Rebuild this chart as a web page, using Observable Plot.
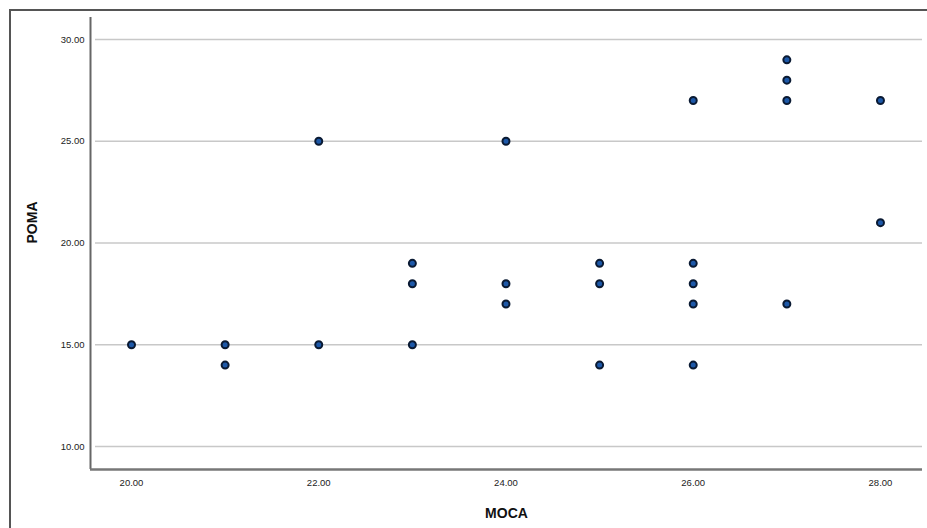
<!DOCTYPE html>
<html><head><meta charset="utf-8">
<script src="https://cdn.jsdelivr.net/npm/d3@7"></script>
<script src="https://cdn.jsdelivr.net/npm/@observablehq/plot@0.6"></script>
<style>
html,body{margin:0;padding:0;background:#fff;}
#wrap{position:relative;width:927px;height:528px;overflow:hidden;}
#frame{position:absolute;left:9px;top:9px;width:940px;height:540px;border-left:2px solid #555;border-top:2px solid #555;box-sizing:border-box;}
#chart{position:absolute;left:0;top:0;}
</style>
</head><body>
<div id="wrap"><div id="frame"></div><div id="chart"></div></div>
<script>
const moca = [20,21,21,22,22,23,23,23,24,24,24,25,25,25,26,26,26,26,26,27,27,27,27,28,28];
const poma = [15,15,14,25,15,19,18,15,25,18,17,19,18,14,27,19,18,17,14,29,28,27,17,27,21];
const xTicks = [20,22,24,26,28];
const yTicks = [10,15,20,25,30];
const xDomain = [19.562, 28.449];
const yDomain = [8.87, 31.08];

const data = moca.map((m,i)=>({MOCA:m, POMA:poma[i]}));

const chart = Plot.plot({
  width: 927, height: 528,
  marginLeft: 90, marginRight: 5, marginTop: 17, marginBottom: 59,
  style: {fontFamily: "Liberation Sans, Arial, sans-serif", background: "transparent"},
  x: {domain: xDomain, ticks: xTicks, tickFormat: d => d.toFixed(2), label: null},
  y: {domain: yDomain, ticks: yTicks, tickFormat: d => d.toFixed(2), label: null},
  marks: [
    Plot.ruleY(yTicks, {stroke: "#c8c8c8", strokeWidth: 1.5, insetLeft: 5}),
    Plot.ruleX([xDomain[0]], {stroke: "#666", strokeWidth: 2}),
    Plot.ruleY([yDomain[0]], {stroke: "#777", strokeWidth: 2.5}),
    Plot.axisX(xTicks, {tickSize: 0, tickPadding: 10, fontSize: 9.5, fill: "#222", tickFormat: d => d.toFixed(2), label: null}),
    Plot.axisY(yTicks, {tickSize: 0, tickPadding: 6, fontSize: 9.5, fill: "#222", tickFormat: d => d.toFixed(2), label: null}),
    Plot.dot(data, {x: "MOCA", y: "POMA", r: 3.5, fill: "#1d58a8", stroke: "#0a1a33", strokeWidth: 2}),
    Plot.text(["POMA"], {frameAnchor: "left", dx: -58, rotate: -90, fontSize: 14, fontWeight: "bold", fill: "#111", text: d => d}),
    Plot.text(["MOCA"], {frameAnchor: "bottom", dy: 48, fontSize: 14, fontWeight: "bold", fill: "#111", text: d => d})
  ]
});
document.getElementById("chart").appendChild(chart);
</script>
</body></html>
